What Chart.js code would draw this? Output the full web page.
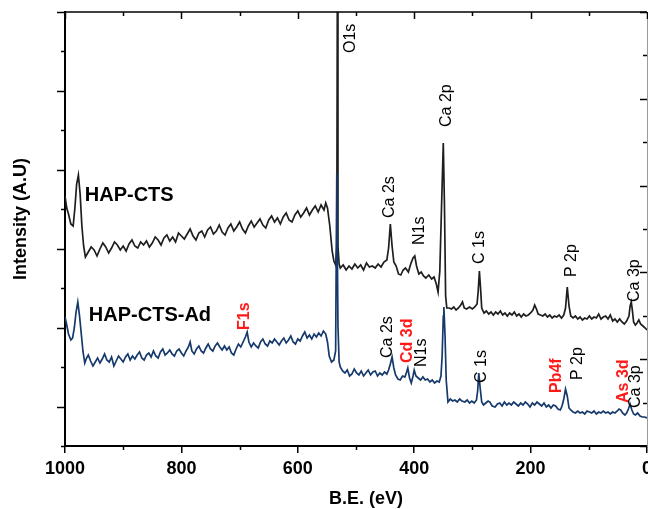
<!DOCTYPE html>
<html lang="en">
<head>
<meta charset="utf-8">
<title>XPS survey HAP-CTS / HAP-CTS-Ad</title>
<script src="https://cdn.jsdelivr.net/npm/chart.js@4.4.0/dist/chart.umd.min.js"></script>
<style>
  html, body { margin: 0; padding: 0; background: #fff; }
  canvas { display: block; }
</style>
</head>
<body>
<canvas id="xpsChart" width="648" height="509"></canvas>
<script>
// binding energy (eV) and intensity (a.u.)
const ctsBE = [
  1000, 997, 994, 990, 986, 983, 980, 977, 974, 971, 968, 965,
  960, 955, 950, 945, 940, 935, 930, 925, 920, 915, 910, 905, 900, 895, 890, 885, 880, 875, 870, 865,
  860, 855, 850, 845, 840, 835, 830, 825, 820, 815, 810, 805, 800, 795, 790, 785, 780, 775, 770, 765,
  760, 755, 750, 745, 740, 735, 730, 725, 720, 715, 710, 705, 700, 695, 690, 685, 680, 675, 670, 665,
  660, 655, 650, 645, 640, 635, 630, 625, 620, 615, 610, 605, 600, 595, 590, 585, 580, 575, 570, 565,
  560, 555, 552, 549, 545, 541, 538, 535, 533, 532, 531, 529,
  527, 522, 517, 512, 507, 502, 497, 492, 487, 482, 477, 472, 467, 462, 457, 452, 447,
  444, 441, 438, 435, 431, 427, 423, 419, 415, 410, 406, 402, 399, 396, 392, 388, 384, 380, 375, 370,
  366, 362, 359, 356, 353, 350, 348, 346, 344,
  340, 336, 332, 328, 324, 320, 317, 314, 310, 305, 300, 296, 292, 290, 288, 286, 284, 280,
  276, 272, 268, 264, 260, 256, 252, 248, 244, 240, 236, 232, 228, 224, 220, 216, 212, 208, 204, 200,
  196, 193, 190, 187, 183, 179, 175, 171, 167, 163, 159, 155, 151, 147, 143, 140, 137, 134, 131, 127,
  123, 119, 115, 111, 107, 103, 99, 95, 91, 87, 83, 79, 75, 71, 67, 63, 59, 55, 51, 47,
  43, 39, 35, 31, 29, 27, 25, 23, 20, 17, 14, 11, 7, 3, 0
];
const ctsI = [
  250, 238, 232, 222, 220, 238, 262, 271, 252, 220, 200, 189,
  194, 199, 196, 190, 197, 203, 199, 193, 198, 204, 201, 196, 200, 195, 202, 206, 200, 198, 204, 201,
  205, 199, 203, 209, 206, 201, 208, 211, 205, 209, 204, 213, 210, 207, 212, 217, 210, 206, 213, 215,
  209, 216, 219, 212, 215, 221, 214, 211, 218, 222, 215, 219, 224, 217, 213, 220, 225, 219, 223, 227,
  221, 218, 226, 230, 224, 228, 222, 229, 233, 226, 224, 231, 235, 229, 233, 238, 231, 236, 240, 234,
  241, 236, 243, 238, 220, 195, 185, 181, 200, 470, 200, 182,
  178, 181, 176, 180, 177, 182, 178, 181, 176, 183, 179, 180, 178, 182, 179, 184, 186,
  198, 222, 200, 184, 180, 172, 171, 176, 178, 174, 182, 188, 190, 180, 172, 174, 170, 168, 171, 167,
  169, 162, 154, 175, 240, 303, 240, 150, 138,
  138, 137, 139, 136, 138, 141, 144, 138, 137, 139, 137, 139, 142, 155, 175, 158, 138, 133,
  135, 132, 134, 131, 134, 132, 135, 131, 133, 130, 133, 131, 134, 130, 132, 129, 132, 130, 131, 133,
  136, 141, 137, 132, 131, 130, 132, 129, 131, 128, 130, 129, 131, 128, 131, 138, 159, 140, 130, 128,
  130, 127, 129, 126, 128, 127, 130, 127, 129, 128, 132, 127, 129, 130, 127, 131, 125, 127, 124, 127,
  124, 122, 125, 130, 140, 144, 135, 124, 121, 123, 126, 122, 120, 118, 116
];
const adBE = [
  1000, 997, 994, 990, 987, 984, 981, 978, 975, 972, 969, 966, 963,
  960, 956, 952, 948, 944, 940, 936, 932, 928, 924, 920, 916, 912, 908, 904, 900, 896, 892, 888, 884,
  880, 876, 872, 868, 864, 860, 856, 852, 848, 844, 840, 836, 832, 828, 824, 820, 816, 812, 808, 804,
  800, 796, 792, 788, 785, 782, 778, 774, 770, 766, 762, 758, 754, 750, 746, 742, 738, 734, 730, 726,
  722, 718, 714, 710, 706, 702, 698, 694, 690, 687, 684, 680, 676, 672, 668, 664, 660, 656, 652, 648,
  644, 640, 636, 632, 628, 624, 620, 616, 612, 608, 604, 600, 596, 592, 588, 584, 580, 576, 572, 568,
  564, 560, 556, 552, 549, 546, 542, 538, 535, 533, 531, 529,
  527, 523, 519, 515, 511, 507, 503, 499, 495, 491, 487, 483, 479, 475, 471, 467, 463, 459, 455, 451,
  447, 444, 441, 438, 435, 432, 428, 424, 420, 416, 413, 411, 408, 405, 402, 400, 397, 393, 389, 385,
  381, 377, 373, 369, 365, 361, 357, 354, 352, 350, 349, 347, 345, 342,
  338, 334, 330, 326, 322, 318, 313, 309, 305, 301, 297, 293, 291, 289, 287, 284, 281, 277, 273, 270,
  266, 261, 257, 253, 249, 245, 241, 237, 233, 229, 225, 221, 217, 213, 209, 205, 201, 197, 193, 189,
  185, 181, 177, 173, 169, 165, 161, 157, 153, 149, 146, 143, 140, 137, 134, 131, 127, 123, 119, 115,
  111, 107, 103, 99, 95, 91, 87, 83, 79, 75, 71, 67, 63, 59, 55, 51, 48, 45, 42, 38,
  35, 32, 29, 26, 23, 20, 16, 12, 8, 4, 0
];
const adI = [
  129, 121, 112, 106, 108, 118, 134, 144, 130, 112, 94, 83, 88,
  91, 85, 80, 84, 88, 83, 87, 92, 86, 84, 89, 80, 85, 90, 87, 84, 89, 92, 86, 90,
  87, 91, 94, 88, 86, 91, 93, 89, 95, 90, 88, 94, 97, 91, 93, 96, 92, 90, 95, 97,
  93, 90, 95, 99, 104, 95, 92, 97, 100, 95, 93, 98, 102, 97, 95, 100, 103, 99, 96, 100,
  96, 99, 93, 91, 97, 102, 99, 104, 109, 114, 104, 99, 103, 100, 98, 104, 107, 102, 100, 105,
  103, 107, 104, 101, 105, 108, 103, 106, 110, 104, 102, 107, 105, 110, 114, 108, 111, 107, 112, 109,
  113, 110, 115, 112, 104, 90, 84, 86, 95, 273, 120, 84,
  79, 75, 73, 76, 70, 72, 77, 73, 71, 75, 70, 73, 76, 71, 74, 75, 70, 73, 71, 74,
  72, 76, 82, 89, 78, 71, 67, 66, 70, 69, 74, 78, 68, 63, 70, 76, 70, 68, 66, 69,
  66, 67, 64, 66, 63, 65, 64, 70, 90, 130, 139, 110, 66, 44,
  47, 45, 46, 44, 47, 45, 44, 46, 43, 45, 43, 46, 55, 73, 60, 44, 41, 43, 45, 44,
  40, 39, 42, 43, 40, 44, 41, 43, 41, 44, 42, 40, 43, 41, 44, 42, 39, 43, 41, 44,
  42, 40, 43, 39, 41, 38, 41, 40, 37, 36, 40, 47, 57, 50, 38, 36, 34, 33, 35, 33,
  34, 32, 35, 34, 33, 35, 32, 34, 33, 35, 33, 34, 32, 34, 33, 35, 37, 36, 33, 31,
  33, 37, 42, 36, 32, 31, 33, 30, 29, 29, 28
];

// axis ticks
const xMajorTicks = [0, 200, 400, 600, 800, 1000];
const xMinorTicks = [100, 300, 500, 700, 900];
const Y_MAX = 434;
const yTicks = Array.from({length: 12}, (_, i) => i * Y_MAX / 11);
const rightTicks = [0, 1, 2, 3, 4, 5, 6, 7, 8, 9, 10];

// peak assignments: text, anchor BE, anchor intensity (start of the rotated text)
const peakText = ['O1s', 'Ca 2s', 'N1s', 'Ca 2p', 'C 1s', 'P 2p', 'Ca 3p',
                  'F1s', 'Ca 2s', 'Cd 3d', 'N1s', 'C 1s', 'Pb4f', 'P 2p', 'As 3d', 'Ca 3p'];
const peakBE = [509, 442, 390, 344, 287, 129, 21, 691, 445, 411, 387, 284, 156, 120, 41, 19];
const peakY = [393, 228, 201, 319, 182, 169, 144, 116, 88, 83, 79, 63, 53, 66, 43, 38];
const peakRed = [0, 0, 0, 0, 0, 0, 0, 1, 0, 1, 0, 0, 1, 0, 1, 0];

const FONT = '"Liberation Sans", Arial, sans-serif';

const decor = {
  id: 'decor',
  afterDraw(chart) {
    const {ctx, chartArea: a, scales} = chart;
    const x = scales.x, y = scales.y, y2 = scales.y2;
    const seg = (x1, y1, x2, y2_) => { ctx.beginPath(); ctx.moveTo(x1, y1); ctx.lineTo(x2, y2_); ctx.stroke(); };
    ctx.save();

    // frame top + right
    ctx.strokeStyle = '#9a9a9a';
    ctx.lineWidth = 1;
    seg(a.right + 0.5, a.top, a.right + 0.5, a.bottom);
    ctx.strokeStyle = '#000';
    ctx.lineWidth = 1.5;
    seg(a.left - 1, a.top, a.right, a.top);

    // x ticks: minors below, all inward on top
    xMinorTicks.forEach(v => {
      const px = Math.round(x.getPixelForValue(v)) + 0.5;
      seg(px, a.bottom, px, a.bottom + 4);
      seg(px, a.top, px, a.top + 4);
    });
    xMajorTicks.forEach(v => {
      const px = Math.round(x.getPixelForValue(v)) + 0.5;
      seg(px, a.top, px, a.top + 7);
    });
    // left ticks outward, right ticks inward
    yTicks.forEach((v, i) => {
      const py = Math.round(y.getPixelForValue(v)) + 0.5;
      seg(a.left, py, a.left - (i % 2 ? 8 : 4), py);
    });
    rightTicks.forEach((v, i) => {
      const py = Math.round(y2.getPixelForValue(v)) + 0.5;
      seg(a.right, py, a.right - (i % 2 ? 4 : 7), py);
    });

    // axis titles
    ctx.fillStyle = '#000';
    ctx.font = 'bold 18px ' + FONT;
    ctx.textAlign = 'center';
    ctx.textBaseline = 'middle';
    ctx.fillText('B.E. (eV)', 366, 499);
    ctx.save();
    ctx.translate(21, 219);
    ctx.rotate(-Math.PI / 2);
    ctx.fillText('Intensity (A.U)', 0, 0);
    ctx.restore();

    // sample names
    ctx.font = 'bold 20px ' + FONT;
    ctx.textAlign = 'left';
    ctx.textBaseline = 'alphabetic';
    ctx.fillText('HAP-CTS', x.getPixelForValue(966), y.getPixelForValue(245));
    ctx.fillText('HAP-CTS-Ad', x.getPixelForValue(959), y.getPixelForValue(125));

    // peak labels, rotated
    ctx.textBaseline = 'middle';
    peakText.forEach((t, i) => {
      ctx.save();
      ctx.translate(x.getPixelForValue(peakBE[i]), y.getPixelForValue(peakY[i]));
      ctx.rotate(-Math.PI / 2);
      ctx.fillStyle = peakRed[i] ? '#ff1a1a' : '#000';
      ctx.font = (peakRed[i] ? 'bold ' : '') + '16px ' + FONT;
      ctx.fillText(t, 0, 0);
      ctx.restore();
    });
    ctx.restore();
  }
};

const toPoints = (bx, iy) => bx.map((b, i) => ({x: b, y: iy[i]}));

new Chart(document.getElementById('xpsChart'), {
  type: 'line',
  data: {
    datasets: [
      {
        label: 'HAP-CTS',
        data: toPoints(ctsBE, ctsI),
        borderColor: '#1e1e1e',
        borderWidth: 1.7,
        pointRadius: 0,
        tension: 0,
        order: 1
      },
      {
        label: 'HAP-CTS-Ad',
        data: toPoints(adBE, adI),
        borderColor: '#15396b',
        borderWidth: 1.7,
        pointRadius: 0,
        tension: 0,
        order: 0
      }
    ]
  },
  options: {
    responsive: false,
    animation: false,
    devicePixelRatio: 1,
    layout: { padding: { top: 12, right: 1, left: 0, bottom: 0 } },
    plugins: { legend: { display: false }, tooltip: { enabled: false } },
    scales: {
      x: {
        type: 'linear',
        min: 0,
        max: 1000,
        reverse: true,
        position: 'bottom',
        afterFit(s) { s.height = 63; s.paddingLeft = 0; s.paddingRight = 0; },
        border: { display: true, color: '#000', width: 2 },
        grid: { display: true, drawOnChartArea: false, drawTicks: true, tickLength: 7, color: '#000', lineWidth: 1.5 },
        ticks: {
          stepSize: 200,
          maxRotation: 0,
          autoSkip: false,
          padding: 5,
          color: '#000',
          font: { family: FONT, size: 18, weight: 'bold' },
          callback: v => String(v)
        }
      },
      y: {
        type: 'linear',
        min: 0,
        max: Y_MAX,
        position: 'left',
        afterFit(s) { s.width = 65; },
        border: { display: true, color: '#000', width: 2 },
        grid: { display: false },
        ticks: { display: false }
      },
      y2: {
        type: 'linear',
        min: 0,
        max: 10,
        position: 'right',
        display: false
      }
    }
  },
  plugins: [decor]
});
</script>
</body>
</html>
